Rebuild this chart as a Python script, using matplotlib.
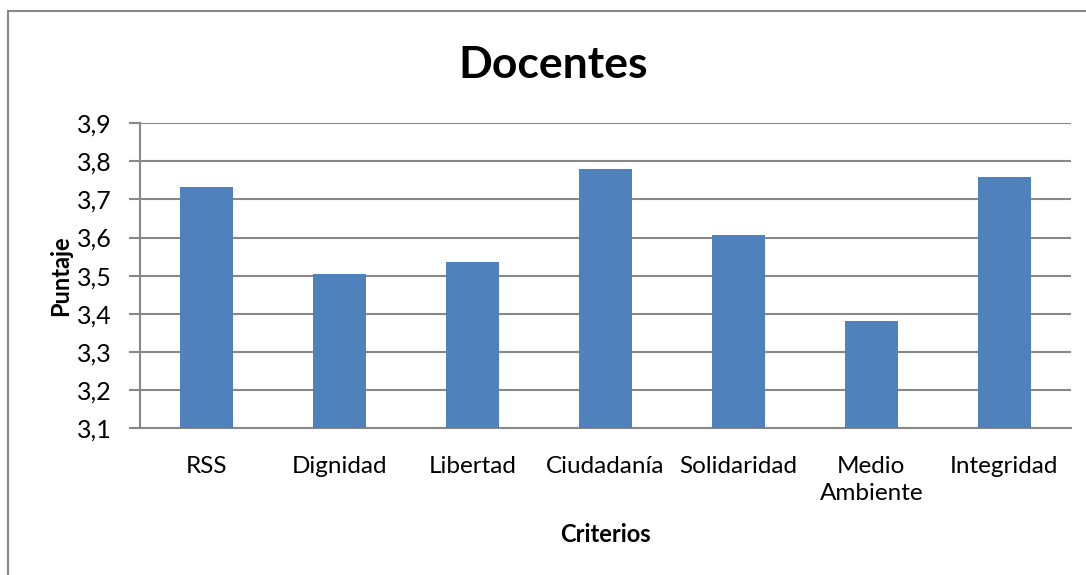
import matplotlib.pyplot as plt
from matplotlib.patches import Rectangle

plt.rcParams['font.family'] = ['Lato', 'DejaVu Sans']

categorias = ["RSS", "Dignidad", "Libertad", "Ciudadanía", "Solidaridad", "Medio\nAmbiente", "Integridad"]
puntajes = [3.732, 3.504, 3.535, 3.779, 3.606, 3.380, 3.758]
yticks = [3.1, 3.2, 3.3, 3.4, 3.5, 3.6, 3.7, 3.8, 3.9]

fig = plt.figure(figsize=(10.86, 5.75), dpi=100)
ax = fig.add_axes([0.1289, 0.2557, 0.857, 0.530])

ax.bar(range(len(categorias)), puntajes, width=0.4, color="#4F81BD", zorder=3)
ax.set_ylim(3.1, 3.9)
ax.set_xlim(-0.5, len(categorias) - 0.5)
ax.set_yticks(yticks)
ax.set_yticklabels([f"{v:.1f}".replace(".", ",") for v in yticks], fontsize=18)
ax.set_xticks(range(len(categorias)))
ax.set_xticklabels(categorias, fontsize=17.5, linespacing=1.35)
ax.tick_params(axis="x", length=0, pad=20)
ax.tick_params(axis="y", length=8, width=1.5, color="#888888", pad=12)

ax.grid(axis="y", color="#888888", linewidth=1.5, zorder=0)
for s in ["top", "right"]:
    ax.spines[s].set_visible(False)
for s in ["left", "bottom"]:
    ax.spines[s].set_color("#888888")
    ax.spines[s].set_linewidth(1.5)

ax.set_ylabel("Puntaje", fontsize=17, fontweight="bold", labelpad=4)
ax.set_xlabel("Criterios", fontsize=17, fontweight="bold", labelpad=14)
fig.text(0.509, 0.887, "Docentes", ha="center", va="center", fontsize=32, fontweight="bold")

# marco exterior del gráfico
fig.patches.append(Rectangle((8 / 1086, -0.1), 1.2, 1 - 11 / 575 + 0.1, transform=fig.transFigure,
                             fill=False, edgecolor="#888888", linewidth=1.5))

fig.savefig("out.png", dpi=100)
